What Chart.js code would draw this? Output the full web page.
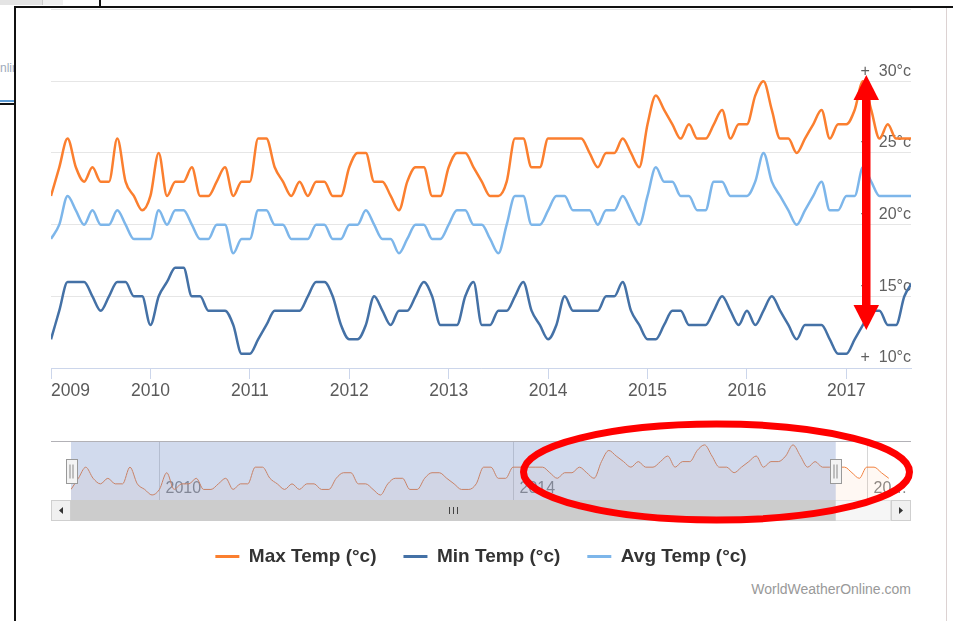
<!DOCTYPE html>
<html>
<head>
<meta charset="utf-8">
<script src="https://cdn.jsdelivr.net/npm/chart.js@4.4.0/dist/chart.umd.min.js"></script>
<style>
  html, body { margin: 0; padding: 0; background: #fff; }
  body { width: 953px; height: 621px; position: relative; overflow: hidden; font-family: 'Liberation Sans', Arial, sans-serif; }
  .abs { position: absolute; }
  #main-wrap { position: absolute; left: 41px; top: 0; width: 880px; height: 576px; }
  #nav-wrap { position: absolute; left: 51px; top: 430px; width: 860px; height: 95px; }
  #marks { position: absolute; left: 0; top: 0; }
  .credit { right: 42px; top: 580px; font-size: 14px; line-height: 18px; color: #999; }
  .side-text { left: 0; top: 61px; width: 14px; overflow: hidden; font-size: 12px; color: #9eaabb; white-space: nowrap; }
</style>
</head>
<body>
  <!-- bits of the window behind and the frame around the chart -->
  <div class="abs" style="left:0;top:0;width:42px;height:5px;background:#e4e4e4;"></div>
  <div class="abs" style="left:42px;top:0;width:20px;height:5px;background:#f0f0f0;border-left:1px solid #ccc;"></div>
  <div class="abs" style="left:99px;top:0;width:2px;height:7px;background:#111;"></div>
  <div class="abs side-text">nline</div>
  <div class="abs" style="left:0;top:100px;width:14px;height:2px;background:#5b9bd5;"></div>
  <div class="abs" style="left:0;top:103px;width:14px;height:2px;background:#111;"></div>
  <div class="abs" style="left:14px;top:6px;width:939px;height:2px;background:#111;"></div>
  <div class="abs" style="left:14px;top:6px;width:2px;height:615px;background:#111;"></div>
  <div class="abs" style="left:946px;top:8px;width:1px;height:613px;background:#dcd2d2;"></div>

  <div id="main-wrap"><canvas id="mainChart"></canvas></div>
  <div id="nav-wrap"><canvas id="navChart"></canvas></div>
  <div class="abs credit">WorldWeatherOnline.com</div>

  <!-- red markings drawn over the screenshot -->
  <svg id="marks" width="953" height="621">
    <rect x="862" y="98" width="8.5" height="209" fill="#ff0000"/>
    <polygon points="866.3,75 853.5,100 879,100" fill="#ff0000"/>
    <polygon points="866.3,330 853.5,305 879,305" fill="#ff0000"/>
    <ellipse cx="716.5" cy="472" rx="193" ry="48" fill="none" stroke="#ff0000" stroke-width="7"/>
  </svg>

<script>
const START_YEAR = 2009;
const VIEW_MAX = 103.8;   // last month shown in the main plot (months since Jan 2009)
const NAV_MAX = 111.3;    // navigator x range

// monthly values, Jan 2009 onwards
const maxTemp = [
  22, 24, 26, 24, 23, 24, 23, 23, 26, 23, 22, 21,
  22, 25, 22, 23, 23, 24, 22, 22, 23, 24, 22, 23,
  23, 26, 26, 24, 23, 22, 23, 22, 23, 23, 22, 22,
  24, 25, 25, 23, 23, 22, 21, 23, 24, 24, 22, 22,
  24, 25, 25, 24, 23, 22, 22, 23, 26, 26, 24, 24,
  26, 26, 26, 26, 26, 25, 24, 25, 25, 26, 25, 24,
  27, 29, 28, 27, 26, 27, 26, 26, 27, 28, 26, 27,
  27, 29, 30, 28, 26, 26, 25, 26, 27, 28, 26, 27,
  27, 28, 30, 28, 26, 27, 26, 26, 26, 26, 25, 24,
  26, 26, 25, 24
];
const minTemp = [
  12, 14, 16, 16, 16, 15, 14, 15, 16, 16, 15, 15,
  13, 15, 16, 17, 17, 15, 15, 14, 14, 14, 13, 11,
  11, 12, 13, 14, 14, 14, 14, 15, 16, 16, 15, 13,
  12, 12, 13, 15, 14, 13, 14, 14, 15, 16, 15, 13,
  13, 13, 15, 16, 13, 13, 14, 14, 15, 16, 14, 13,
  12, 13, 15, 14, 14, 14, 14, 15, 15, 16, 14, 13,
  12, 12, 13, 14, 14, 13, 13, 13, 14, 15, 14, 13,
  14, 13, 14, 15, 14, 13, 12, 13, 13, 13, 12, 11,
  11, 12, 13, 14, 14, 13, 13, 15, 16
];
const avgTemp = [
  19, 20, 22, 21, 20, 21, 20, 20, 21, 20, 19, 19,
  19, 21, 20, 21, 21, 20, 19, 19, 20, 20, 18, 19,
  19, 21, 21, 20, 20, 19, 19, 19, 20, 20, 19, 19,
  20, 20, 21, 20, 19, 19, 18, 19, 20, 20, 19, 19,
  20, 21, 21, 20, 20, 19, 18, 20, 22, 22, 20, 20,
  21, 22, 22, 21, 21, 21, 20, 21, 21, 22, 21, 20,
  22, 24, 23, 23, 22, 22, 21, 21, 23, 23, 22, 22,
  22, 23, 25, 23, 22, 21, 20, 21, 22, 23, 21, 21,
  22, 22, 24, 23, 22, 22, 22, 22, 22
];

const seriesNames = ['Max Temp (°c)', 'Min Temp (°c)', 'Avg Temp (°c)'];
const seriesColors = ['#fb7f2f', '#4471a6', '#7db6ea'];
const yearTicks = [2009, 2010, 2011, 2012, 2013, 2014, 2015, 2016, 2017];
const tempTicks = [10, 15, 20, 25, 30, 35];
const navYears = [2010, 2014, 2018];
const navLabels = ['2010', '2014', '20…'];

const FONT = "'Liberation Sans', Arial, sans-serif";
Chart.defaults.font.family = FONT;

function toPoints(values) {
  return values.map((v, i) => ({ x: i, y: v }));
}

function monthOf(year) {
  return (year - START_YEAR) * 12;
}

// main plot
new Chart(document.getElementById('mainChart'), {
  type: 'line',
  data: {
    datasets: [maxTemp, minTemp, avgTemp].map((values, i) => ({
      label: seriesNames[i],
      data: toPoints(values),
      borderColor: seriesColors[i],
      backgroundColor: seriesColors[i],
      borderWidth: 2.5,
      pointRadius: 0,
      fill: false,
      cubicInterpolationMode: 'monotone'
    }))
  },
  options: {
    responsive: true,
    maintainAspectRatio: false,
    animation: false,
    layout: { padding: { left: 10, right: 10, top: 9.5, bottom: 0 } },
    plugins: {
      tooltip: { enabled: false },
      legend: {
        position: 'bottom',
        labels: {
          boxWidth: 24,
          boxHeight: 3,
          padding: 27,
          color: '#333333',
          font: { size: 19, weight: 'bold' },
          generateLabels(chart) {
            const items = Chart.defaults.plugins.legend.labels.generateLabels(chart);
            items.forEach(it => { it.lineWidth = 0; });
            return items;
          }
        }
      }
    },
    scales: {
      x: {
        type: 'linear',
        min: 0,
        max: VIEW_MAX,
        afterBuildTicks(scale) {
          // year ticks plus an empty one at the end so 'inner' keeps 2017 centred
          scale.ticks = yearTicks.map(y => ({ value: monthOf(y) })).concat({ value: VIEW_MAX });
        },
        afterFit(scale) {
          scale.height = 152;
        },
        grid: {
          drawOnChartArea: false,
          tickLength: 11,
          tickColor: ctx => (ctx.tick && ctx.tick.value === VIEW_MAX ? 'rgba(0,0,0,0)' : '#ccd6eb')
        },
        border: { color: '#ccd6eb' },
        ticks: {
          align: 'inner',
          autoSkip: false,
          maxRotation: 0,
          padding: 2,
          color: '#5a5a5a',
          font: { size: 17.5 },
          callback: v => (v === VIEW_MAX ? '' : String(START_YEAR + v / 12))
        }
      },
      y: {
        position: 'right',
        min: 10,
        max: 35,
        afterBuildTicks(scale) {
          scale.ticks = tempTicks.map(v => ({ value: v }));
        },
        grid: { color: '#e6e6e6', drawTicks: false },
        border: { display: false },
        ticks: {
          mirror: true,
          padding: 0,
          labelOffset: -10,
          color: '#606060',
          font: { size: 16 },
          callback: v => (v === 35 ? '' : '+  ' + v + '°c')
        }
      }
    }
  }
});

// navigator: grid, labels, mask, handles and scrollbar
const navigatorPlugin = {
  id: 'navigator',
  beforeDatasetsDraw(chart) {
    const { ctx, chartArea: a, scales: { x } } = chart;
    ctx.save();
    ctx.font = '16px ' + FONT;
    ctx.textBaseline = 'middle';
    navYears.forEach((year, i) => {
      const px = Math.round(x.getPixelForValue(monthOf(year))) + 0.5;
      ctx.strokeStyle = '#d6d6d6';
      ctx.lineWidth = 1;
      ctx.beginPath();
      ctx.moveTo(px, a.top);
      ctx.lineTo(px, a.bottom);
      ctx.stroke();
      ctx.fillStyle = '#888888';
      ctx.fillText(navLabels[i], px + 6, a.bottom - 11);
    });
    ctx.restore();
  },
  afterDatasetsDraw(chart) {
    const { ctx, chartArea: a, scales: { x } } = chart;
    const x0 = x.getPixelForValue(0);
    const x1 = x.getPixelForValue(VIEW_MAX);
    const left = a.left - 20, right = a.right + 20;
    ctx.save();

    // selected range mask
    ctx.fillStyle = 'rgba(102,133,194,0.3)';
    ctx.fillRect(x0, a.top, x1 - x0, a.bottom - a.top);

    // outline
    ctx.strokeStyle = '#b2b1b6';
    ctx.lineWidth = 1;
    ctx.beginPath();
    ctx.moveTo(left, a.top + 0.5);
    ctx.lineTo(right, a.top + 0.5);
    ctx.stroke();

    // scrollbar
    const sTop = a.bottom, sH = 21;
    ctx.fillStyle = '#f6f6f6';
    ctx.fillRect(a.left, sTop, a.right - a.left, sH);
    ctx.strokeStyle = '#e2e2e2';
    ctx.strokeRect(a.left + 0.5, sTop + 0.5, a.right - a.left - 1, sH - 1);
    ctx.fillStyle = '#cccccc';
    ctx.fillRect(x0, sTop, x1 - x0, sH);
    const mid = Math.round((x0 + x1) / 2);
    ctx.strokeStyle = '#444';
    [-3.5, 0.5, 4.5].forEach(d => {
      ctx.beginPath();
      ctx.moveTo(mid + d, sTop + 7);
      ctx.lineTo(mid + d, sTop + 14);
      ctx.stroke();
    });
    [[left, a.left, 1], [a.right, right, -1]].forEach(([bx0, bx1, dir]) => {
      ctx.fillStyle = '#f0f0f0';
      ctx.fillRect(bx0, sTop, bx1 - bx0, sH);
      ctx.strokeStyle = '#cfcfcf';
      ctx.strokeRect(bx0 + 0.5, sTop + 0.5, bx1 - bx0 - 1, sH - 1);
      const cx = (bx0 + bx1) / 2, cy = sTop + sH / 2;
      ctx.fillStyle = '#333';
      ctx.beginPath();
      ctx.moveTo(cx - 2 * dir, cy);
      ctx.lineTo(cx + 2 * dir, cy - 3.5);
      ctx.lineTo(cx + 2 * dir, cy + 3.5);
      ctx.closePath();
      ctx.fill();
    });

    // handles
    const hTop = Math.round(a.top + (a.bottom - a.top - 24) / 2) + 0.5;
    [x0, x1].forEach(hx => {
      const hl = Math.round(hx - 5.5) + 0.5;
      ctx.fillStyle = '#f4f4f4';
      ctx.fillRect(hl, hTop, 11, 24);
      ctx.strokeStyle = '#999999';
      ctx.strokeRect(hl, hTop, 11, 24);
      ctx.strokeStyle = '#888888';
      [3.5, 6.5].forEach(d => {
        ctx.beginPath();
        ctx.moveTo(hl + d, hTop + 5);
        ctx.lineTo(hl + d, hTop + 19);
        ctx.stroke();
      });
    });
    ctx.restore();
  }
};

new Chart(document.getElementById('navChart'), {
  type: 'line',
  data: {
    datasets: [{
      label: seriesNames[0],
      data: toPoints(maxTemp),
      borderColor: '#f2813f',
      backgroundColor: 'rgba(247,128,50,0.06)',
      borderWidth: 1,
      pointRadius: 0,
      fill: 'start',
      cubicInterpolationMode: 'monotone'
    }]
  },
  options: {
    responsive: true,
    maintainAspectRatio: false,
    animation: false,
    layout: { padding: { left: 20, right: 20, top: 11, bottom: 25 } },
    plugins: { legend: { display: false }, tooltip: { enabled: false } },
    scales: {
      x: { type: 'linear', display: false, min: 0, max: NAV_MAX },
      y: { display: false, min: 20.1, max: 30.7 }
    }
  },
  plugins: [navigatorPlugin]
});
</script>
</body>
</html>
